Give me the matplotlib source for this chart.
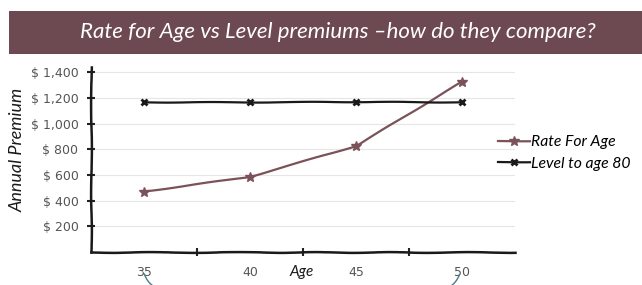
import matplotlib
matplotlib.use("Agg")
import matplotlib.pyplot as plt
from matplotlib.patches import Rectangle, Arc

ages = ["35", "40", "45", "50"]
rate_for_age = [470, 585, 825, 1325]
level_to_80 = [1165, 1165, 1168, 1165]
y_ticks = [200, 400, 600, 800, 1000, 1200, 1400]
y_labels = ["$ 200", "$ 400", "$ 600", "$ 800", "$ 1,000", "$ 1,200", "$ 1,400"]

hand = dict(family=["Lato", "DejaVu Sans"], style="italic")

fig = plt.figure(figsize=(6.42, 2.85), dpi=100)

# title banner
fig.patches.append(Rectangle((9 / 642, 1 - 54 / 285), 1 - 9 / 642, 43 / 285,
                             transform=fig.transFigure, facecolor="#6d4a51",
                             edgecolor="none", zorder=0))
fig.text(338 / 642, 1 - 32 / 285, "Rate for Age vs Level premiums \u2013how do they compare?",
         color="white", fontsize=16, ha="center", va="center", **hand)

ax = fig.add_axes([91 / 642, 1 - 252 / 285, 424 / 642, 185 / 285])
x = range(len(ages))

l1, = ax.plot(x, rate_for_age, color="#7b525a", lw=1.6, marker="*", ms=7,
              label="Rate For Age")
l2, = ax.plot(x, level_to_80, color="#1a1a1a", lw=1.6, marker="x", ms=5, mew=2,
              label="Level to age 80")
for l in (l1, l2):
    l.set_sketch_params(0.3, 100, 2)

ax.set_xlim(-0.5, 3.5)
ax.set_ylim(0, 1440)
ax.set_yticks(y_ticks)
ax.set_yticklabels(y_labels)
ax.set_xticks([0.5, 1.5, 2.5])
ax.set_xticklabels([])
ax.set_xticks(list(x), minor=True)
ax.set_xticklabels(ages, minor=True)
ax.tick_params(axis="x", which="major", direction="inout", length=6, width=1.5, color="#222")
ax.tick_params(axis="x", which="minor", length=0, pad=10, labelsize=9, labelcolor="#555")
ax.tick_params(axis="y", direction="inout", length=6, width=1.5, color="#222",
               labelsize=9, labelcolor="#555", pad=6)

ax.grid(axis="y", color="#e6e6e6", lw=0.8)
ax.set_axisbelow(True)
for s in ["top", "right"]:
    ax.spines[s].set_visible(False)
for s in ["left", "bottom"]:
    ax.spines[s].set_linewidth(1.8)
    ax.spines[s].set_color("#1a1a1a")
    ax.spines[s].set_sketch_params(0.4, 100, 3)

fig.text(302 / 642, 1 - 272 / 285, "Age", ha="center", va="center", fontsize=11,
         color="#1a1a1a", **hand)
fig.text(18 / 642, 1 - 150 / 285, "Annual Premium", rotation=90, ha="center",
         va="center", fontsize=13, color="#1a1a1a", **hand)

fig.legend(loc="center left", bbox_to_anchor=(484 / 642, 1 - 153 / 285), frameon=False,
           handlelength=2.0, handletextpad=0.1, labelspacing=0.5,
           prop=dict(size=11.3, **hand))

# decorative arcs under the first and last labels
fig.patches.append(Arc((168 / 642, 19 / 285), 50 / 642, 50 / 285, theta1=215, theta2=255,
                       transform=fig.transFigure, color="#4b7b8c", lw=1))
fig.patches.append(Arc((436 / 642, 19 / 285), 50 / 642, 50 / 285, theta1=285, theta2=322,
                       transform=fig.transFigure, color="#4b7b8c", lw=1))

fig.savefig("out.png", dpi=100)
